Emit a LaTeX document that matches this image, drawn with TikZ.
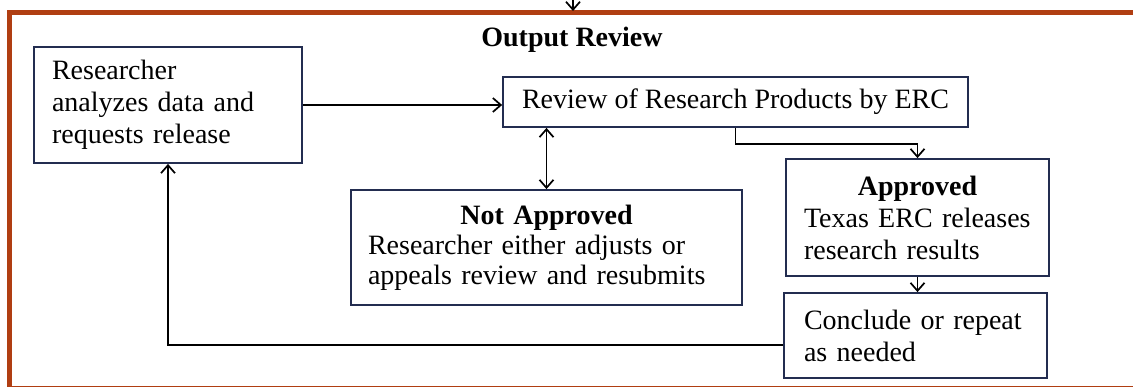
\documentclass[tikz,border=0pt]{standalone}
\usepackage{fontspec}
\setmainfont{Liberation Serif}
\usetikzlibrary{arrows.meta}
\definecolor{framebrown}{RGB}{176,62,18}
\definecolor{boxnavy}{RGB}{35,45,80}
\begin{document}
\begin{tikzpicture}[x=1pt,y=-1pt,>={Straight Barb[length=8pt,width=14pt]},
  box/.style={draw=boxnavy,line width=1.8pt,inner ysep=0pt,font=\fontsize{28}{32}\selectfont},
  flow/.style={line width=1.7pt,->}]
\useasboundingbox(0,0) rectangle (1133,387);
\clip(0,0) rectangle (1133,387);
\draw[framebrown,line width=5pt](9,13) rectangle (1145,389);
\coordinate(entry) at (573,0);
\coordinate(frametop) at (573,11);
\draw[flow](entry)--(frametop);
\node[font=\bfseries\fontsize{28}{32}\selectfont](title) at (572,40){Output Review};
\node[box,inner xsep=18pt,text width=232pt,align=left,minimum height=116pt](researcher) at (168,105){Researcher\\analyzes data and\\requests release};
\node[box,inner xsep=19pt,minimum width=463pt,minimum height=50pt](review) at (735.5,102){Review of Research Products by ERC};
\node[box,inner xsep=17pt,text width=357pt,align=left,minimum height=115pt,font=\fontsize{28}{30}\selectfont](notapproved) at (546.5,247.5){\makebox[357pt]{\textbf{Not Approved}}\\Researcher either adjusts or\\appeals review and resubmits};
\node[box,inner xsep=18pt,text width=227pt,align=left,minimum height=117pt](approved) at (917.5,217.5){\makebox[227pt]{\textbf{Approved}}\\Texas ERC releases\\research results};
\node[box,inner xsep=20pt,text width=223pt,align=left,minimum height=85pt](conclude) at (915.5,335.5){Conclude or repeat\\as needed};
\draw[flow](researcher.east)--(researcher.east-|review.west);
\draw[flow](review.south)--++(0,16)-|(approved.north);
\draw[line width=1.7pt,<->](notapproved.north)--(notapproved.north|-review.south);
\draw[flow](approved.south)--(approved.south|-conclude.north);
\draw[flow]([yshift=-9.5pt]conclude.west)-|(researcher.south);
\end{tikzpicture}
\end{document}
